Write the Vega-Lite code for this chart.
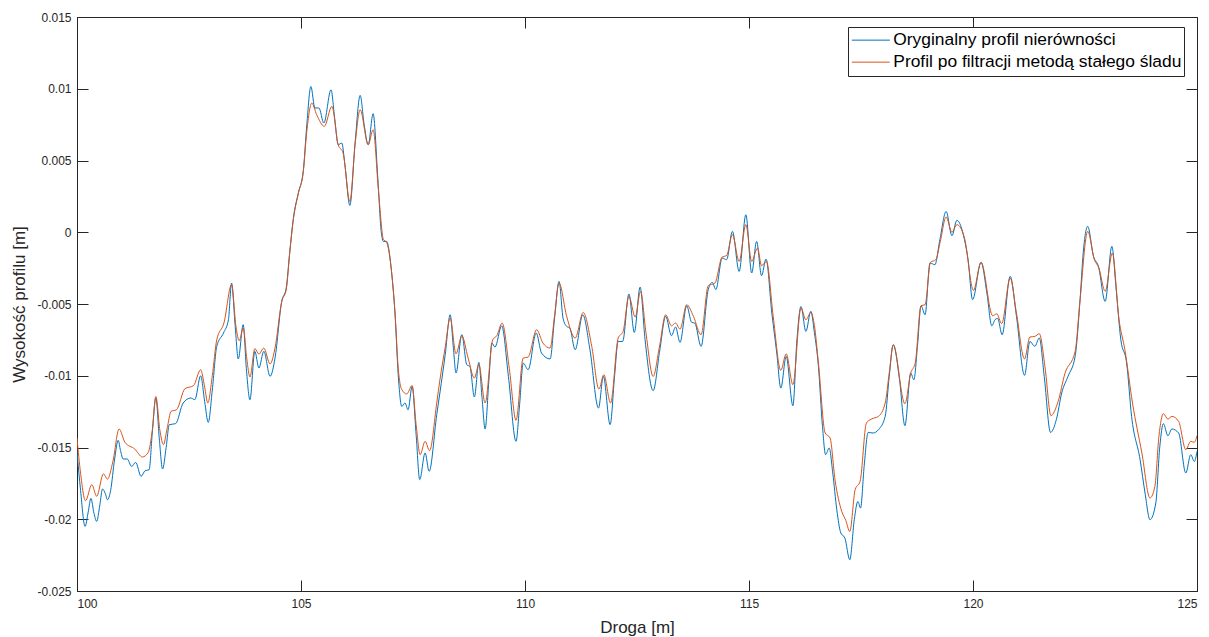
{
"$schema":"https://vega.github.io/schema/vega-lite/v6.json",
"width":1120,"height":574,
"autosize":"none",
"padding":{"left":77,"top":17,"right":12,"bottom":46},
"background":"white",
"config":{"font":"Liberation Sans","view":{"stroke":"#262626","strokeWidth":1},
 "axis":{"domain":false,"grid":false,"tickColor":"#262626","tickSize":-11,"labelColor":"#262626","labelFontSize":12,"labelFont":"Liberation Sans","titleFont":"Liberation Sans","titleFontWeight":"normal","titleColor":"#262626","titleFontSize":17}},
"datasets":{"oryginalny":[
{"droga":100.00,"wys":-0.0153},{"droga":100.08,"wys":-0.0180},{"droga":100.18,"wys":-0.0205},{"droga":100.25,"wys":-0.0195},{"droga":100.31,"wys":-0.01855},{"droga":100.38,"wys":-0.0196},{"droga":100.44,"wys":-0.02015},{"droga":100.51,"wys":-0.0190},{"droga":100.57,"wys":-0.01789},{"droga":100.63,"wys":-0.0182},{"droga":100.68,"wys":-0.01864},{"droga":100.75,"wys":-0.0180},{"droga":100.84,"wys":-0.0158},{"droga":100.92,"wys":-0.0145},{"droga":100.97,"wys":-0.0152},{"droga":101.03,"wys":-0.0158},{"droga":101.12,"wys":-0.0158},{"droga":101.22,"wys":-0.01632},{"droga":101.31,"wys":-0.01604},{"droga":101.43,"wys":-0.01701},{"droga":101.52,"wys":-0.01662},{"droga":101.61,"wys":-0.01655},{"droga":101.68,"wys":-0.0140},{"droga":101.76,"wys":-0.01155},{"droga":101.84,"wys":-0.0145},{"droga":101.91,"wys":-0.0165},{"droga":101.99,"wys":-0.0150},{"droga":102.06,"wys":-0.01341},{"droga":102.20,"wys":-0.01334},{"droga":102.37,"wys":-0.0119},{"droga":102.54,"wys":-0.01155},{"droga":102.63,"wys":-0.01167},{"droga":102.76,"wys":-0.0100},{"droga":102.85,"wys":-0.0118},{"droga":102.93,"wys":-0.01325},{"droga":103.02,"wys":-0.0110},{"droga":103.12,"wys":-0.00795},{"droga":103.27,"wys":-0.00702},{"droga":103.38,"wys":-0.0061},{"droga":103.45,"wys":-0.00354},{"droga":103.53,"wys":-0.0065},{"droga":103.60,"wys":-0.00883},{"droga":103.71,"wys":-0.00644},{"droga":103.78,"wys":-0.0095},{"droga":103.86,"wys":-0.01167},{"droga":103.97,"wys":-0.0083},{"droga":104.06,"wys":-0.00946},{"droga":104.17,"wys":-0.0083},{"droga":104.31,"wys":-0.01004},{"droga":104.42,"wys":-0.00877},{"droga":104.57,"wys":-0.00482},{"droga":104.67,"wys":-0.00389},{"droga":104.75,"wys":-0.00133},{"droga":104.83,"wys":0.00099},{"droga":104.94,"wys":0.00273},{"droga":105.05,"wys":0.00424},{"droga":105.13,"wys":0.0075},{"droga":105.22,"wys":0.01016},{"droga":105.31,"wys":0.00866},{"droga":105.40,"wys":0.00866},{"droga":105.51,"wys":0.00761},{"droga":105.67,"wys":0.00993},{"droga":105.75,"wys":0.0080},{"droga":105.83,"wys":0.0061},{"droga":105.91,"wys":0.00622},{"droga":105.98,"wys":0.00471},{"droga":106.09,"wys":0.00187},{"droga":106.21,"wys":0.00633},{"droga":106.32,"wys":0.00954},{"droga":106.41,"wys":0.0075},{"droga":106.50,"wys":0.0061},{"droga":106.61,"wys":0.00826},{"droga":106.71,"wys":0.00401},{"droga":106.79,"wys":0.00006},{"droga":106.84,"wys":-0.00064},{"droga":106.91,"wys":-0.00064},{"droga":107.02,"wys":-0.00273},{"droga":107.10,"wys":-0.00575},{"droga":107.17,"wys":-0.00993},{"droga":107.25,"wys":-0.01214},{"droga":107.32,"wys":-0.0119},{"droga":107.39,"wys":-0.01237},{"droga":107.48,"wys":-0.01074},{"droga":107.57,"wys":-0.01411},{"droga":107.65,"wys":-0.01724},{"droga":107.77,"wys":-0.01538},{"droga":107.86,"wys":-0.01666},{"droga":108.03,"wys":-0.01271},{"droga":108.10,"wys":-0.0112},{"droga":108.22,"wys":-0.0085},{"droga":108.33,"wys":-0.00575},{"droga":108.40,"wys":-0.0080},{"droga":108.46,"wys":-0.00981},{"droga":108.59,"wys":-0.00714},{"droga":108.70,"wys":-0.00923},{"droga":108.77,"wys":-0.00935},{"droga":108.87,"wys":-0.01148},{"droga":108.97,"wys":-0.00907},{"droga":109.04,"wys":-0.0115},{"droga":109.11,"wys":-0.01371},{"droga":109.19,"wys":-0.0105},{"droga":109.26,"wys":-0.00772},{"droga":109.33,"wys":-0.008},{"droga":109.48,"wys":-0.00652},{"droga":109.63,"wys":-0.01005},{"droga":109.80,"wys":-0.01457},{"droga":109.88,"wys":-0.0120},{"droga":109.96,"wys":-0.00912},{"droga":110.07,"wys":-0.00958},{"droga":110.25,"wys":-0.00702},{"droga":110.37,"wys":-0.00842},{"droga":110.56,"wys":-0.00883},{"droga":110.66,"wys":-0.0060},{"droga":110.76,"wys":-0.00342},{"droga":110.85,"wys":-0.0060},{"droga":110.93,"wys":-0.00656},{"droga":111.00,"wys":-0.00668},{"droga":111.12,"wys":-0.00819},{"droga":111.29,"wys":-0.00575},{"droga":111.45,"wys":-0.00819},{"droga":111.64,"wys":-0.01225},{"droga":111.75,"wys":-0.01005},{"droga":111.90,"wys":-0.01341},{"droga":112.00,"wys":-0.0100},{"droga":112.08,"wys":-0.00761},{"droga":112.18,"wys":-0.00761},{"droga":112.32,"wys":-0.0043},{"droga":112.44,"wys":-0.00698},{"droga":112.57,"wys":-0.00382},{"droga":112.68,"wys":-0.00749},{"droga":112.86,"wys":-0.01104},{"droga":113.01,"wys":-0.00819},{"droga":113.14,"wys":-0.00586},{"droga":113.27,"wys":-0.00721},{"droga":113.36,"wys":-0.0066},{"droga":113.46,"wys":-0.00767},{"droga":113.61,"wys":-0.00512},{"droga":113.72,"wys":-0.00628},{"droga":113.79,"wys":-0.00633},{"droga":113.93,"wys":-0.00795},{"droga":114.09,"wys":-0.004},{"droga":114.18,"wys":-0.00349},{"droga":114.26,"wys":-0.004},{"droga":114.40,"wys":-0.0018},{"droga":114.50,"wys":-0.00191},{"droga":114.63,"wys":0.00006},{"droga":114.78,"wys":-0.00273},{"droga":114.93,"wys":0.00122},{"droga":115.06,"wys":-0.00284},{"droga":115.17,"wys":-0.00064},{"droga":115.28,"wys":-0.00303},{"droga":115.38,"wys":-0.00187},{"droga":115.51,"wys":-0.00563},{"droga":115.62,"wys":-0.00842},{"droga":115.71,"wys":-0.01086},{"droga":115.83,"wys":-0.00865},{"droga":115.98,"wys":-0.01209},{"droga":116.07,"wys":-0.00749},{"droga":116.16,"wys":-0.00517},{"droga":116.27,"wys":-0.00691},{"droga":116.38,"wys":-0.00551},{"droga":116.46,"wys":-0.0070},{"droga":116.55,"wys":-0.00935},{"droga":116.64,"wys":-0.01353},{"droga":116.71,"wys":-0.0155},{"droga":116.79,"wys":-0.01504},{"droga":116.87,"wys":-0.01678},{"droga":116.96,"wys":-0.01934},{"droga":117.05,"wys":-0.02096},{"droga":117.14,"wys":-0.02131},{"droga":117.25,"wys":-0.02282},{"droga":117.35,"wys":-0.02003},{"droga":117.43,"wys":-0.01876},{"droga":117.49,"wys":-0.01922},{"droga":117.57,"wys":-0.01632},{"droga":117.66,"wys":-0.01395},{"droga":117.77,"wys":-0.01399},{"droga":117.89,"wys":-0.01376},{"droga":118.04,"wys":-0.01283},{"droga":118.13,"wys":-0.01005},{"droga":118.22,"wys":-0.00784},{"droga":118.36,"wys":-0.01028},{"droga":118.48,"wys":-0.01348},{"droga":118.61,"wys":-0.00981},{"droga":118.68,"wys":-0.01028},{"droga":118.76,"wys":-0.00795},{"droga":118.84,"wys":-0.00512},{"droga":118.93,"wys":-0.00575},{"droga":119.04,"wys":-0.00214},{"droga":119.15,"wys":-0.00226},{"droga":119.26,"wys":-0.00052},{"droga":119.40,"wys":0.00145},{"droga":119.53,"wys":-0.00024},{"droga":119.64,"wys":0.00083},{"droga":119.81,"wys":-0.00052},{"droga":119.89,"wys":-0.00191},{"droga":119.99,"wys":-0.0047},{"droga":120.18,"wys":-0.0021},{"droga":120.31,"wys":-0.00424},{"droga":120.42,"wys":-0.00652},{"droga":120.49,"wys":-0.0061},{"droga":120.55,"wys":-0.0060},{"droga":120.65,"wys":-0.00714},{"droga":120.83,"wys":-0.00307},{"droga":120.97,"wys":-0.00586},{"droga":121.15,"wys":-0.00997},{"droga":121.27,"wys":-0.00761},{"droga":121.38,"wys":-0.00795},{"droga":121.48,"wys":-0.00737},{"droga":121.59,"wys":-0.01005},{"droga":121.73,"wys":-0.01395},{"droga":121.86,"wys":-0.01306},{"droga":121.98,"wys":-0.0112},{"droga":122.12,"wys":-0.01005},{"droga":122.28,"wys":-0.00865},{"droga":122.39,"wys":-0.0047},{"droga":122.46,"wys":-0.00145},{"droga":122.56,"wys":0.00041},{"droga":122.69,"wys":-0.00168},{"droga":122.80,"wys":-0.00238},{"droga":122.95,"wys":-0.00482},{"droga":123.10,"wys":-0.00098},{"droga":123.19,"wys":-0.00377},{"droga":123.30,"wys":-0.00749},{"droga":123.43,"wys":-0.00912},{"droga":123.54,"wys":-0.01283},{"droga":123.73,"wys":-0.01585},{"droga":123.84,"wys":-0.01817},{"droga":123.95,"wys":-0.02003},{"droga":124.08,"wys":-0.01887},{"droga":124.17,"wys":-0.01492},{"droga":124.25,"wys":-0.01334},{"droga":124.35,"wys":-0.01418},{"droga":124.44,"wys":-0.01371},{"droga":124.59,"wys":-0.01399},{"droga":124.75,"wys":-0.01678},{"droga":124.86,"wys":-0.0155},{"droga":124.94,"wys":-0.01597},{"droga":125.00,"wys":-0.01527}
],
"filtrowany":[
{"droga":100.00,"wys":-0.01434},{"droga":100.08,"wys":-0.0168},{"droga":100.19,"wys":-0.01871},{"droga":100.33,"wys":-0.01759},{"droga":100.44,"wys":-0.0184},{"droga":100.59,"wys":-0.01683},{"droga":100.68,"wys":-0.0172},{"droga":100.80,"wys":-0.0160},{"droga":100.94,"wys":-0.01371},{"droga":101.07,"wys":-0.01464},{"droga":101.29,"wys":-0.01511},{"droga":101.46,"wys":-0.01566},{"droga":101.59,"wys":-0.01534},{"droga":101.68,"wys":-0.0138},{"droga":101.76,"wys":-0.01144},{"droga":101.85,"wys":-0.0138},{"droga":101.93,"wys":-0.0148},{"droga":102.01,"wys":-0.0137},{"droga":102.10,"wys":-0.01248},{"droga":102.22,"wys":-0.01237},{"droga":102.41,"wys":-0.0109},{"droga":102.60,"wys":-0.01069},{"droga":102.76,"wys":-0.00958},{"droga":102.85,"wys":-0.0108},{"droga":102.92,"wys":-0.0119},{"droga":103.02,"wys":-0.0100},{"droga":103.12,"wys":-0.00749},{"droga":103.28,"wys":-0.00632},{"droga":103.45,"wys":-0.00365},{"droga":103.55,"wys":-0.0066},{"droga":103.62,"wys":-0.00756},{"droga":103.71,"wys":-0.00667},{"droga":103.79,"wys":-0.0088},{"droga":103.86,"wys":-0.01009},{"droga":103.97,"wys":-0.00811},{"droga":104.06,"wys":-0.00849},{"droga":104.17,"wys":-0.00807},{"droga":104.31,"wys":-0.00918},{"droga":104.42,"wys":-0.00807},{"droga":104.57,"wys":-0.00482},{"droga":104.67,"wys":-0.0040},{"droga":104.75,"wys":-0.0014},{"droga":104.83,"wys":0.0009},{"droga":104.94,"wys":0.0027},{"droga":105.05,"wys":0.0042},{"droga":105.13,"wys":0.00703},{"droga":105.24,"wys":0.009},{"droga":105.35,"wys":0.00819},{"droga":105.52,"wys":0.00738},{"droga":105.69,"wys":0.00877},{"droga":105.83,"wys":0.0061},{"droga":105.94,"wys":0.00552},{"droga":106.09,"wys":0.00215},{"droga":106.21,"wys":0.0062},{"droga":106.32,"wys":0.00854},{"droga":106.50,"wys":0.0061},{"droga":106.61,"wys":0.00714},{"droga":106.73,"wys":0.00285},{"droga":106.84,"wys":-0.0005},{"droga":106.91,"wys":-0.0007},{"droga":107.02,"wys":-0.0027},{"droga":107.10,"wys":-0.0057},{"droga":107.17,"wys":-0.00946},{"droga":107.25,"wys":-0.01097},{"droga":107.36,"wys":-0.01127},{"droga":107.48,"wys":-0.01068},{"droga":107.57,"wys":-0.01341},{"droga":107.66,"wys":-0.0155},{"droga":107.77,"wys":-0.01457},{"droga":107.87,"wys":-0.01522},{"droga":108.03,"wys":-0.0119},{"droga":108.10,"wys":-0.0103},{"droga":108.22,"wys":-0.0080},{"droga":108.33,"wys":-0.00598},{"droga":108.46,"wys":-0.00847},{"droga":108.59,"wys":-0.00721},{"droga":108.73,"wys":-0.00877},{"droga":108.87,"wys":-0.01016},{"droga":108.97,"wys":-0.00923},{"droga":109.11,"wys":-0.0119},{"droga":109.28,"wys":-0.00749},{"droga":109.37,"wys":-0.00721},{"droga":109.49,"wys":-0.00633},{"droga":109.65,"wys":-0.0095},{"droga":109.80,"wys":-0.01311},{"droga":109.96,"wys":-0.00877},{"droga":110.07,"wys":-0.0087},{"droga":110.26,"wys":-0.00679},{"droga":110.40,"wys":-0.00772},{"droga":110.56,"wys":-0.00807},{"droga":110.66,"wys":-0.0058},{"droga":110.76,"wys":-0.00354},{"droga":110.93,"wys":-0.00586},{"droga":111.12,"wys":-0.00737},{"droga":111.30,"wys":-0.00559},{"droga":111.49,"wys":-0.00795},{"droga":111.65,"wys":-0.01093},{"droga":111.76,"wys":-0.00993},{"droga":111.91,"wys":-0.0119},{"droga":112.08,"wys":-0.00737},{"droga":112.19,"wys":-0.00691},{"droga":112.32,"wys":-0.00447},{"droga":112.46,"wys":-0.00591},{"droga":112.58,"wys":-0.00412},{"droga":112.70,"wys":-0.0070},{"droga":112.86,"wys":-0.01005},{"droga":113.00,"wys":-0.0080},{"droga":113.14,"wys":-0.00575},{"droga":113.27,"wys":-0.00652},{"droga":113.36,"wys":-0.00633},{"droga":113.46,"wys":-0.00675},{"droga":113.61,"wys":-0.00505},{"droga":113.76,"wys":-0.00586},{"droga":113.93,"wys":-0.00714},{"droga":114.09,"wys":-0.00373},{"droga":114.24,"wys":-0.00354},{"droga":114.40,"wys":-0.00173},{"droga":114.50,"wys":-0.00163},{"droga":114.63,"wys":-0.00017},{"droga":114.78,"wys":-0.00203},{"droga":114.93,"wys":0.00053},{"droga":115.06,"wys":-0.00203},{"droga":115.19,"wys":-0.0011},{"droga":115.28,"wys":-0.00233},{"droga":115.39,"wys":-0.00203},{"droga":115.54,"wys":-0.00586},{"droga":115.71,"wys":-0.00963},{"droga":115.83,"wys":-0.00847},{"droga":115.98,"wys":-0.01062},{"droga":116.16,"wys":-0.00528},{"droga":116.27,"wys":-0.0061},{"droga":116.38,"wys":-0.00559},{"droga":116.46,"wys":-0.0065},{"droga":116.55,"wys":-0.00912},{"droga":116.70,"wys":-0.01399},{"droga":116.81,"wys":-0.01434},{"droga":116.92,"wys":-0.01725},{"droga":117.07,"wys":-0.01945},{"droga":117.16,"wys":-0.02008},{"droga":117.25,"wys":-0.02085},{"droga":117.37,"wys":-0.01793},{"droga":117.48,"wys":-0.01736},{"droga":117.62,"wys":-0.0133},{"droga":117.73,"wys":-0.01302},{"droga":117.89,"wys":-0.01283},{"droga":118.04,"wys":-0.0119},{"droga":118.13,"wys":-0.00981},{"droga":118.22,"wys":-0.00784},{"droga":118.48,"wys":-0.01195},{"droga":118.61,"wys":-0.00981},{"droga":118.71,"wys":-0.00912},{"droga":118.84,"wys":-0.00512},{"droga":118.93,"wys":-0.00505},{"droga":119.05,"wys":-0.0021},{"droga":119.17,"wys":-0.00191},{"droga":119.27,"wys":-0.00064},{"droga":119.40,"wys":0.00106},{"droga":119.53,"wys":0.0},{"droga":119.64,"wys":0.00053},{"droga":119.81,"wys":-0.0004},{"droga":120.01,"wys":-0.00405},{"droga":120.18,"wys":-0.0021},{"droga":120.44,"wys":-0.00582},{"droga":120.53,"wys":-0.00568},{"droga":120.64,"wys":-0.00637},{"droga":120.83,"wys":-0.00319},{"droga":120.97,"wys":-0.00563},{"droga":121.15,"wys":-0.00883},{"droga":121.27,"wys":-0.0073},{"droga":121.38,"wys":-0.00726},{"droga":121.48,"wys":-0.00707},{"droga":121.61,"wys":-0.00946},{"droga":121.74,"wys":-0.01278},{"droga":121.90,"wys":-0.01179},{"droga":122.05,"wys":-0.00986},{"droga":122.28,"wys":-0.0083},{"droga":122.39,"wys":-0.0047},{"droga":122.56,"wys":0.00006},{"droga":122.71,"wys":-0.00191},{"droga":122.81,"wys":-0.00249},{"droga":122.95,"wys":-0.00412},{"droga":123.11,"wys":-0.00145},{"droga":123.26,"wys":-0.0061},{"droga":123.39,"wys":-0.00819},{"droga":123.56,"wys":-0.0119},{"droga":123.77,"wys":-0.01539},{"droga":123.95,"wys":-0.01852},{"droga":124.06,"wys":-0.01771},{"droga":124.15,"wys":-0.01422},{"droga":124.25,"wys":-0.01264},{"droga":124.35,"wys":-0.01302},{"droga":124.44,"wys":-0.01283},{"droga":124.59,"wys":-0.01318},{"droga":124.75,"wys":-0.01515},{"droga":124.86,"wys":-0.01457},{"droga":124.94,"wys":-0.01464},{"droga":125.00,"wys":-0.01418}
]},
"layer":[
{"data":{"name":"oryginalny"},
 "mark":{"type":"line","strokeWidth":1,"interpolate":"monotone","clip":true},
 "encoding":{
  "x":{"field":"droga","type":"quantitative","scale":{"domain":[100,125],"nice":false,"zero":false},
   "axis":{"orient":"bottom","title":"Droga [m]","values":[100,105,110,115,120,125],"labelPadding":18,"titlePadding":10}},
  "y":{"field":"wys","type":"quantitative","scale":{"domain":[-0.025,0.015],"nice":false,"zero":false},
   "axis":{"orient":"left","title":"Wysokość profilu [m]","values":[-0.025,-0.02,-0.015,-0.01,-0.005,0,0.005,0.01,0.015],"labelExpr":"replace(format(datum.value,'~g'),'−','-')","labelPadding":17,"titlePadding":8}},
  "color":{"datum":"Oryginalny profil nierówności","type":"nominal","scale":{"domain":["Oryginalny profil nierówności","Profil po filtracji metodą stałego śladu"],"range":["#0072BD","#D95319"]},
   "legend":{"orient":"none","legendX":771,"legendY":10,"title":null,"symbolType":"stroke","symbolSize":1444,"symbolStrokeWidth":1,"symbolOffset":1,"labelFontSize":17.4,"labelFont":"Liberation Sans","labelColor":"#000000","labelLimit":0,"labelOffset":3,"strokeColor":"#262626","fillColor":"white","padding":2.3,"rowPadding":0,"clipHeight":21.7,"cornerRadius":0}}
 }},
{"data":{"name":"filtrowany"},
 "mark":{"type":"line","strokeWidth":1,"interpolate":"monotone","clip":true},
 "encoding":{
  "x":{"field":"droga","type":"quantitative","axis":{"orient":"top","title":null,"labels":false,"values":[100,105,110,115,120,125]}},
  "y":{"field":"wys","type":"quantitative","axis":{"orient":"right","title":null,"labels":false,"values":[-0.025,-0.02,-0.015,-0.01,-0.005,0,0.005,0.01,0.015]}},
  "color":{"datum":"Profil po filtracji metodą stałego śladu","type":"nominal"}
 }}
],
"resolve":{"axis":{"x":"independent","y":"independent"}}
}
